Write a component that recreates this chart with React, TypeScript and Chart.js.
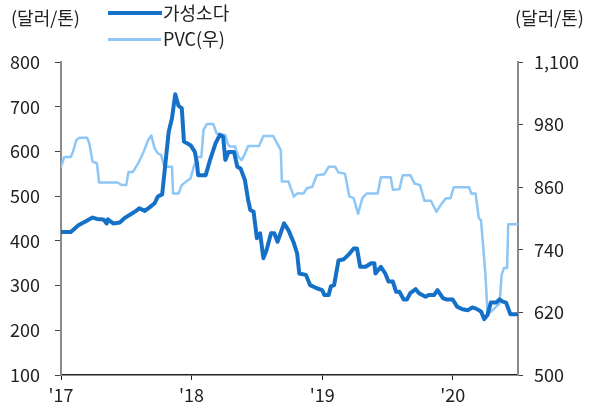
import React, { useEffect, useRef } from "react";
import { Chart, registerables } from "chart.js";

Chart.register(...registerables);

// X positions are months since Jan 2017
const yearLabels = ["'17", "'18", "'19", "'20"];
const yearTickMonths = [0, 12, 24, 36];

// 가성소다 (left axis, $/ton)
const sodaMonths = [
  0.0, 0.9, 1.6, 2.2, 2.9, 3.3, 3.9, 4.2, 4.3, 4.8, 5.4, 5.9, 6.3, 6.9, 7.2, 7.7, 8.2, 8.6, 8.9, 9.3,
  9.5, 9.9, 10.2, 10.5, 10.8, 11.1, 11.3, 11.9, 12.3, 12.5, 12.6, 13.3, 13.7, 14.2, 14.6, 14.9, 15.1, 15.4, 15.9, 16.2,
  16.5, 16.9, 17.2, 17.4, 17.7, 18.0, 18.3, 18.6, 18.9, 19.3, 19.6, 19.9, 20.5, 20.9, 21.4, 21.7, 21.9, 22.5, 22.9, 23.5,
  24.0, 24.2, 24.6, 24.8, 25.1, 25.5, 26.0, 26.5, 26.9, 27.2, 27.5, 28.0, 28.5, 28.8, 28.9, 29.4, 29.8, 30.1, 30.5, 30.8,
  31.1, 31.5, 31.8, 32.1, 32.6, 32.9, 33.5, 33.8, 34.3, 34.6, 35.1, 35.4, 36.0, 36.4, 36.9, 37.4, 37.8, 38.1, 38.6, 38.9,
  39.2, 39.5, 40.0, 40.3, 40.6, 40.9, 41.3, 42.0,
];
const sodaPrices = [
  420, 420, 435, 443, 452, 449, 448, 439, 448, 439, 441, 452, 458, 467, 473, 467, 476, 484, 499, 504,
  551, 644, 674, 728, 702, 697, 622, 614, 599, 573, 547, 547, 581, 618, 637, 633, 581, 599, 599, 566,
  562, 536, 491, 469, 465, 406, 417, 361, 380, 417, 417, 398, 439, 424, 395, 372, 327, 324, 301, 294,
  290, 279, 279, 298, 301, 356, 359, 371, 383, 383, 342, 342, 350, 350, 327, 342, 327, 309, 309, 286,
  286, 269, 269, 283, 292, 283, 275, 279, 279, 290, 272, 269, 269, 253, 247, 245, 251, 249, 242, 225,
  234, 262, 262, 269, 264, 262, 236, 236,
];

// PVC (right axis, $/ton)
const pvcMonths = [
  0.0, 0.3, 0.9, 1.1, 1.4, 1.7, 2.4, 2.6, 2.9, 3.3, 3.5, 5.2, 5.6, 6.0, 6.2, 6.6, 7.1, 7.6, 8.0, 8.3,
  8.6, 8.9, 9.2, 9.5, 10.2, 10.3, 10.8, 11.1, 11.7, 11.9, 12.2, 12.5, 12.9, 13.1, 13.4, 14.0, 14.3, 15.1, 15.3, 15.5,
  16.0, 16.3, 16.6, 16.9, 17.2, 18.2, 18.6, 19.5, 20.2, 20.3, 20.9, 21.4, 21.7, 22.3, 22.6, 23.1, 23.5, 24.2, 24.6, 25.2,
  25.5, 26.1, 26.5, 26.9, 27.3, 27.7, 28.1, 29.1, 29.4, 30.3, 30.5, 31.1, 31.4, 32.1, 32.5, 33.0, 33.4, 34.0, 34.5, 35.0,
  35.4, 35.8, 36.1, 37.5, 37.7, 38.1, 38.4, 38.6, 38.8, 39.0, 39.2, 39.5, 40.0, 40.3, 40.5, 40.7, 41.0, 41.1, 42.0,
];
const pvcPrices = [
  899, 918, 918, 928, 950, 955, 955, 944, 909, 906, 869, 869, 864, 864, 889, 889, 906, 928, 950, 959,
  935, 925, 922, 899, 899, 848, 848, 864, 874, 877, 899, 918, 918, 970, 981, 981, 963, 960, 944, 938,
  938, 918, 912, 924, 939, 939, 958, 958, 931, 871, 871, 842, 848, 848, 858, 861, 883, 885, 899, 899,
  888, 886, 842, 839, 809, 839, 848, 848, 879, 879, 855, 856, 883, 883, 867, 864, 834, 834, 813, 829,
  839, 839, 860, 860, 848, 848, 800, 797, 746, 695, 618, 621, 631, 637, 692, 705, 705, 789, 789,
];

const FONT = "'Noto Sans CJK KR', 'Noto Sans', sans-serif";
const DARK = "#1570C8";
const LIGHT = "#8EC6F5";
const TEXT = "#222222";

export default function App() {
  const canvasRef = useRef<HTMLCanvasElement | null>(null);

  useEffect(() => {
    const canvas = canvasRef.current;
    if (!canvas) return;
    const soda = sodaMonths.map((m, i) => ({ x: m, y: sodaPrices[i] }));
    const pvc = pvcMonths.map((m, i) => ({ x: m, y: pvcPrices[i] }));

    const chart = new Chart(canvas, {
      type: "line",
      data: {
        datasets: [
          {
            label: "가성소다",
            data: soda,
            yAxisID: "y",
            borderColor: DARK,
            borderWidth: 4,
            pointRadius: 0,
            tension: 0,
            borderJoinStyle: "round",
            borderCapStyle: "round",
          },
          {
            label: "PVC(우)",
            data: pvc,
            yAxisID: "y1",
            borderColor: LIGHT,
            borderWidth: 2.5,
            pointRadius: 0,
            tension: 0,
            borderJoinStyle: "round",
            borderCapStyle: "round",
          },
        ],
      },
      options: {
        responsive: false,
        animation: false,
        devicePixelRatio: 1,
        layout: { padding: { top: 62, left: 0, right: 0, bottom: 0 } },
        plugins: {
          legend: { display: false },
          tooltip: { enabled: false },
        },
        scales: {
          x: {
            type: "linear",
            min: 0,
            max: 42,
            afterBuildTicks: (axis: any) => {
              axis.ticks = yearTickMonths.map((v) => ({ value: v }));
            },
            afterFit: (axis: any) => {
              axis.height = 34;
            },
            ticks: {
              autoSkip: false,
              maxRotation: 0,
              padding: 4,
              color: TEXT,
              font: { family: FONT, size: 18 },
              callback: (v: any) => {
                const idx = yearTickMonths.indexOf(Number(v));
                return idx >= 0 ? yearLabels[idx] : "";
              },
            },
            grid: {
              drawOnChartArea: false,
              drawTicks: true,
              tickLength: 5,
              color: "#222",
              lineWidth: 1,
            },
            border: { display: true, color: "#222", width: 1.5 },
          },
          y: {
            position: "left",
            min: 100,
            max: 800,
            afterFit: (axis: any) => {
              axis.width = 61;
            },
            ticks: {
              stepSize: 100,
              padding: 15,
              color: TEXT,
              font: { family: FONT, size: 18 },
            },
            grid: {
              drawOnChartArea: false,
              drawTicks: true,
              tickLength: 6,
              color: "#444",
              lineWidth: 1,
            },
            border: { display: true, color: "#8a8a8a", width: 2 },
          },
          y1: {
            position: "right",
            min: 500,
            max: 1100,
            afterFit: (axis: any) => {
              axis.width = 72;
            },
            ticks: {
              stepSize: 120,
              padding: 11,
              color: TEXT,
              font: { family: FONT, size: 18 },
              callback: (v: any) => Number(v).toLocaleString("en-US"),
            },
            grid: {
              drawOnChartArea: false,
              drawTicks: true,
              tickLength: 5,
              color: "#444",
              lineWidth: 1,
            },
            border: { display: true, color: "#8a8a8a", width: 2 },
          },
        },
      },
    });
    return () => chart.destroy();
  }, []);

  const textStyle: React.CSSProperties = {
    position: "absolute",
    fontFamily: FONT,
    fontSize: 18,
    lineHeight: "20px",
    color: TEXT,
    whiteSpace: "nowrap",
  };

  return (
    <div style={{ position: "absolute", left: 0, top: 0, width: 590, height: 409, background: "#fff" }}>
      <canvas ref={canvasRef} width={590} height={409} style={{ position: "absolute", left: 0, top: 0, width: 590, height: 409 }} />
      <div style={{ ...textStyle, left: 11, top: 7 }}>(달러/톤)</div>
      <div style={{ ...textStyle, left: 515, top: 7 }}>(달러/톤)</div>
      <div style={{ position: "absolute", left: 108, top: 11, width: 54, height: 4, background: DARK }} />
      <div style={{ ...textStyle, left: 163, top: 2 }}>가성소다</div>
      <div style={{ position: "absolute", left: 108, top: 38, width: 53, height: 3, background: LIGHT }} />
      <div style={{ ...textStyle, left: 163, top: 28 }}>PVC(우)</div>
    </div>
  );
}
